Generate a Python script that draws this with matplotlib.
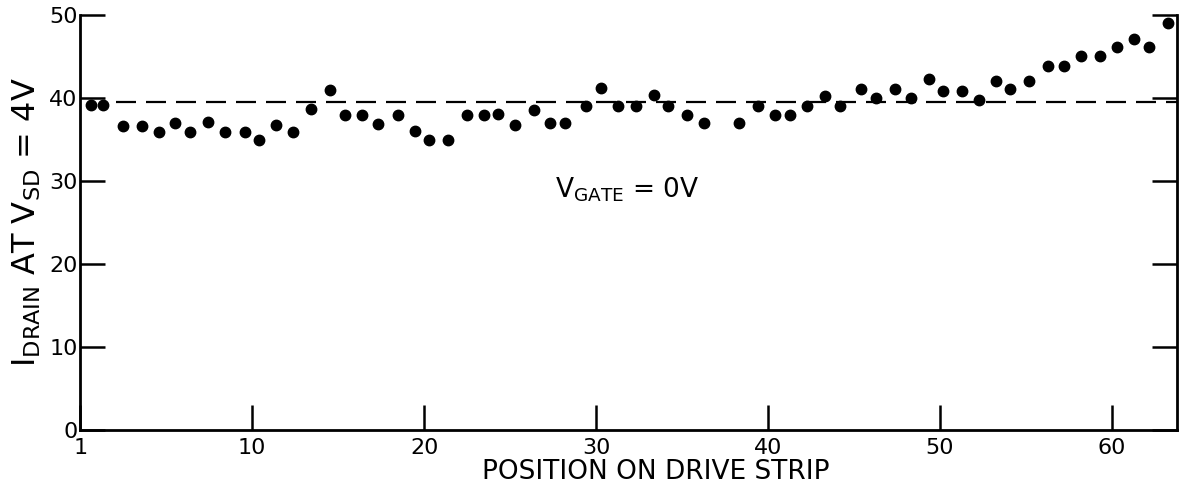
"""Drain current along the drive strip at V_GATE = 0 V."""
import matplotlib
matplotlib.use("Agg")
import matplotlib.pyplot as plt

# positions along the strip (axis units) and drain current
position = [0.6, 1.3, 2.5, 3.6, 4.55, 5.5, 6.4, 7.4, 8.4, 9.6,
            10.4, 11.4, 12.4, 13.4, 14.5, 15.4, 16.4, 17.3, 18.5, 19.5,
            20.3, 21.4, 22.5, 23.5, 24.3, 25.3, 26.4, 27.3, 28.2, 29.4,
            30.3, 31.3, 32.3, 33.4, 34.2, 35.3, 36.3, 38.3, 39.4, 40.4,
            41.3, 42.3, 43.3, 44.2, 45.4, 46.3, 47.4, 48.3, 49.4, 50.2,
            51.3, 52.3, 53.3, 54.1, 55.2, 56.3, 57.2, 58.2, 59.3, 60.3,
            61.3, 62.2, 63.3]
i_drain = [39.2, 39.2, 36.6, 36.6, 35.9, 37.0, 35.9, 37.1, 35.9, 35.9,
           35.0, 36.8, 35.9, 38.7, 41.0, 38.0, 38.0, 36.9, 38.0, 36.0,
           35.0, 35.0, 38.0, 38.0, 38.1, 36.8, 38.5, 37.0, 37.0, 39.0,
           41.2, 39.0, 39.0, 40.4, 39.0, 38.0, 37.0, 37.0, 39.0, 38.0,
           38.0, 39.0, 40.3, 39.0, 41.1, 40.0, 41.1, 40.0, 42.3, 40.9,
           40.9, 39.8, 42.1, 41.1, 42.1, 43.9, 43.9, 45.1, 45.1, 46.1,
           47.1, 46.1, 49.0]

ref_level = 39.5   # dashed average line
ref_start = 2.1

x_ticks = [0, 10, 20, 30, 40, 50, 60]
x_labels = ['1', '10', '20', '30', '40', '50', '60']
y_ticks = [0, 10, 20, 30, 40, 50]

fig = plt.figure(figsize=(11.81, 4.92), dpi=100)
ax = fig.add_axes([0.068, 0.126, 0.9286, 0.8435])

ax.plot(position, i_drain, 'o', color='black', ms=7.5, mec='black')
ax.hlines(ref_level, ref_start, 63.8, colors='black', lw=1.6,
          linestyles=(0, (9, 4.5)))

ax.set_xlim(0, 63.8)
ax.set_ylim(0, 50)

ax.set_xticks(x_ticks)
ax.set_xticklabels(x_labels)
ax.set_yticks(y_ticks)

ax.spines['top'].set_visible(False)
for side in ('left', 'right', 'bottom'):
    ax.spines[side].set_linewidth(2.0)

ax.tick_params(axis='both', direction='in', length=18, width=1.8,
               labelsize=16, pad=3)
ax.tick_params(axis='y', right=True, pad=2)
ax.tick_params(axis='x', pad=6)

ax.set_xlabel('POSITION ON DRIVE STRIP', fontsize=19)
ax.xaxis.set_label_coords(0.525, -0.07)
ax.set_ylabel(r'I$_{\mathrm{DRAIN}}$ AT V$_{\mathrm{SD}}$ = 4V',
              fontsize=23, labelpad=4)

ax.text(31.8, 28.9, r'V$_{\mathrm{GATE}}$ = 0V', fontsize=19,
        ha='center', va='center')

fig.savefig('out.png', dpi=100)
